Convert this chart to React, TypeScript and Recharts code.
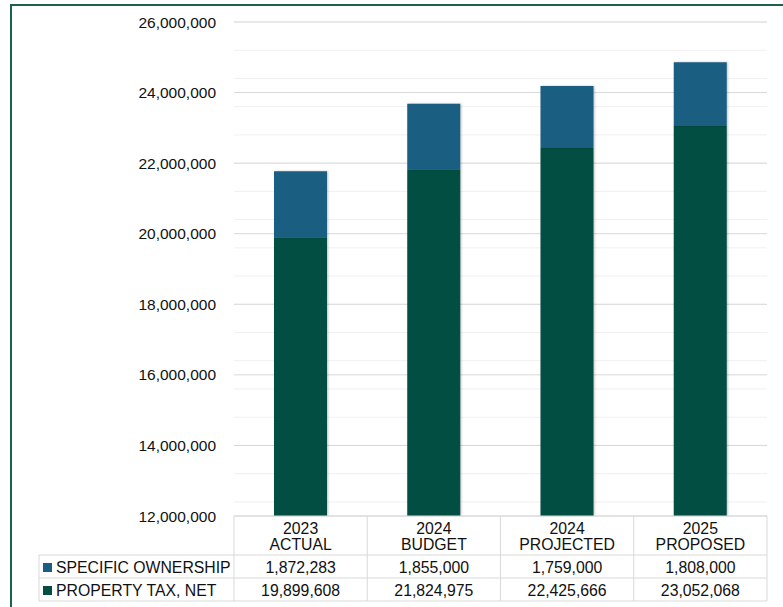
import React from "react";
import { Bar, BarChart, CartesianGrid, XAxis, YAxis } from "recharts";

const years = ["2023", "2024", "2024", "2025"];
const stages = ["ACTUAL", "BUDGET", "PROJECTED", "PROPOSED"];
const propertyTax = [19899608, 21824975, 22425666, 23052068];
const specificOwnership = [1872283, 1855000, 1759000, 1808000];
const yTicks = [12000000, 14000000, 16000000, 18000000, 20000000, 22000000, 24000000, 26000000];

// minor gridlines every 400k between the major ticks
const minorTicks: number[] = [];
for (let v = 12000000; v <= 26000000; v += 400000) minorTicks.push(v);

const seriesNames = ["SPECIFIC OWNERSHIP", "PROPERTY TAX, NET"];
const BLUE = "#1a5f82";
const GREEN = "#034e42";
const FONT = "'Liberation Sans', Arial, sans-serif";
const GRID = "#d9d9d9";

const data = years.map((y, i) => ({
  label: `${y} ${stages[i]}`,
  year: y,
  stage: stages[i],
  propertyTax: propertyTax[i],
  specificOwnership: specificOwnership[i],
}));

const MARGIN = { top: 22, right: 16, bottom: 0, left: 0 };
const Y_W = 234;
const COL_W = (783 - Y_W - MARGIN.right) / years.length;
const LEGEND_LEFT = 39;

const TableTick = (props: any) => {
  const { x, y, index } = props;
  const d = data[index];
  const half = COL_W / 2;
  const txt = { fontFamily: FONT, fontSize: 15.8, fill: "#111", textAnchor: "middle" as const, dominantBaseline: "central" as const };
  return (
    <g>
      <line x1={x + half} x2={x + half} y1={y} y2={y + 85} stroke={GRID} />
      {index === 0 && <line x1={x - half} x2={x - half} y1={y} y2={y + 85} stroke={GRID} />}
      {[39, 62, 85].map((dy) => (
        <line key={dy} x1={x - half} x2={x + half} y1={y + dy} y2={y + dy} stroke={GRID} />
      ))}
      <text x={x} y={y + 12} {...txt}>{d.year}</text>
      <text x={x} y={y + 28} {...txt}>{d.stage}</text>
      <text x={x} y={y + 51.5} {...txt}>{d.specificOwnership.toLocaleString("en-US")}</text>
      <text x={x} y={y + 74} {...txt}>{d.propertyTax.toLocaleString("en-US")}</text>
      {index === 0 && (
        <g>
          {[39, 62, 85].map((dy) => (
            <line key={dy} x1={LEGEND_LEFT} x2={x - half} y1={y + dy} y2={y + dy} stroke={GRID} />
          ))}
          <line x1={LEGEND_LEFT} x2={LEGEND_LEFT} y1={y + 39} y2={y + 85} stroke={GRID} />
          <rect x={LEGEND_LEFT + 4} y={y + 47} width={9} height={9} fill={BLUE} />
          <rect x={LEGEND_LEFT + 4} y={y + 70} width={9} height={9} fill={GREEN} />
          <text x={LEGEND_LEFT + 17} y={y + 51.5} {...txt} textAnchor="start">{seriesNames[0]}</text>
          <text x={LEGEND_LEFT + 17} y={y + 74} {...txt} textAnchor="start">{seriesNames[1]}</text>
        </g>
      )}
    </g>
  );
};

export default function App() {
  return (
    <div style={{ position: "absolute", left: 0, top: 0, width: 783, height: 607, overflow: "hidden", background: "#fff" }}>
      <style>{`.recharts-bar-rectangle path { filter: drop-shadow(1.5px 0px 1px rgba(0,0,0,0.25)); }`}</style>
      <div
        style={{
          position: "absolute",
          left: 10,
          top: 4,
          width: 900,
          height: 800,
          borderLeft: "2px solid #1d6152",
          borderTop: "2px solid #1d6152",
        }}
      />
      <div style={{ position: "absolute", left: 0, top: 0 }}>
        <BarChart width={783} height={607} data={data} margin={MARGIN} barSize={53}>
          <CartesianGrid vertical={false} horizontalValues={minorTicks} stroke="#f0f0f0" />
          <CartesianGrid vertical={false} horizontalValues={yTicks} stroke={GRID} />
          <XAxis
            dataKey="label"
            height={91}
            interval={0}
            tickLine={false}
            tickSize={0}
            tickMargin={0}
            axisLine={{ stroke: GRID }}
            tick={<TableTick />}
          />
          <YAxis
            width={Y_W}
            domain={[12000000, 26000000]}
            ticks={yTicks}
            allowDataOverflow
            axisLine={false}
            tickLine={false}
            tickMargin={12}
            tick={{ fontFamily: FONT, fontSize: 15.5, fill: "#111" }}
            tickFormatter={(v: number) => v.toLocaleString("en-US")}
          />
          <Bar dataKey="propertyTax" stackId="a" fill={GREEN} isAnimationActive={false} />
          <Bar dataKey="specificOwnership" stackId="a" fill={BLUE} isAnimationActive={false} />
        </BarChart>
      </div>
    </div>
  );
}
